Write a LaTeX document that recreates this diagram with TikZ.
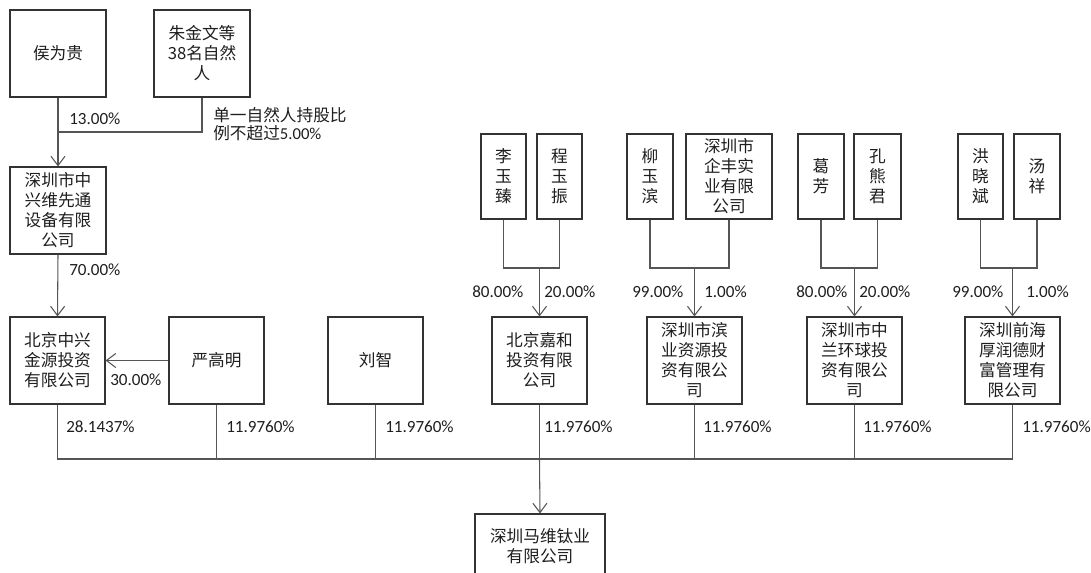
\documentclass[tikz,border=0pt]{standalone}
\usepackage{fontspec}
\setmainfont{Noto Sans CJK SC}
\newfontfamily\lat{Carlito}
\usetikzlibrary{arrows.meta}
\definecolor{linec}{HTML}{555555}
\definecolor{boxc}{HTML}{333333}
\definecolor{txtc}{HTML}{1E1E1E}
\tikzset{
  box/.style={draw=boxc, line width=0.8pt, align=center, inner sep=0pt, text=txtc,
    font=\fontsize{12.5}{15}\selectfont},
  conn/.style={draw=linec, line width=0.8pt},
  arr/.style={conn, -{Straight Barb[length=7pt,width=10.5pt]}},
  pct/.style={anchor=west, inner sep=0pt, text=txtc, font=\lat\fontsize{12.8}{15}\selectfont},
  note/.style={anchor=west, inner sep=0pt, text=txtc, align=left, font=\fontsize{12.5}{13.5}\selectfont}
}
\newcommand\bx[6]{\node[box, minimum width={(#4-#2)*0.75pt}, minimum height={(#5-#3)*0.75pt}] (#1) at ({(#2+#4)/2},{(#3+#5)/2}) {#6};}
\begin{document}
\begin{tikzpicture}[x=0.75pt,y=-0.75pt]
\useasboundingbox (0,0) rectangle (1091,573);
\clip (0,0) rectangle (1091,573);
% top-left
\bx{hou}{10}{10}{106}{97}{侯为贵}
\bx{zhu}{154}{10}{250}{97}{朱金文等\\38名自然\\人}
\bx{zxw}{10}{167}{106}{254}{深圳市中\\兴维先通\\设备有限\\公司}
% middle row
\bx{bjzx}{10}{317}{105}{404}{北京中兴\\金源投资\\有限公司}
\bx{ygm}{169}{317}{264}{404}{严高明}
\bx{lz}{328}{317}{423}{404}{刘智}
\bx{bjjh}{492}{317}{587}{404}{北京嘉和\\投资有限\\公司}
\bx{szby}{647}{317}{742}{404}{深圳市滨\\业资源投\\资有限公\\司}
\bx{szzl}{807}{317}{902}{404}{深圳市中\\兰环球投\\资有限公\\司}
\bx{szqh}{965}{317}{1060}{404}{深圳前海\\厚润德财\\富管理有\\限公司}
% upper small boxes
\bx{li}{481}{134}{526}{219}{李\\玉\\臻}
\bx{cheng}{537}{134}{582}{219}{程\\玉\\振}
\bx{liu}{627}{134}{673}{219}{柳\\玉\\滨}
\bx{qf}{686}{134}{772}{219}{深圳市\\企丰实\\业有限\\公司}
\bx{ge}{798}{134}{844}{219}{葛\\芳}
\bx{kong}{854}{134}{901}{219}{孔\\熊\\君}
\bx{hong}{958}{134}{1003}{219}{洪\\晓\\斌}
\bx{tang}{1014}{134}{1060}{219}{汤\\祥}
% target
\bx{mw}{475}{514}{605}{578}{深圳马维钛业\\有限公司}

% top-left connectors
\coordinate (j0) at (58,132);
\draw[arr] (hou.south) -- (zxw.north);
\draw[conn] (zhu.south) |- (j0);
\draw[arr] (zxw.south) -- (bjzx.north);
\draw[arr] (ygm.west) -- (bjzx.east);
\node[pct] (p13) at (69,119) {13.00\%};
\node[note] (n1) at (213,124) {单一自然人持股比\\例不超过{\lat 5.00\%}};
\node[pct] (p70) at (69,270) {70.00\%};
\node[pct] (p30) at (110,380) {30.00\%};

% groups
\coordinate (j1) at (539.5,268);
\draw[conn] (li.south) |- (j1);
\draw[conn] (cheng.south) |- (j1);
\draw[arr] (j1) -- (bjjh.north);
\node[pct] (a1) at (472,292) {80.00\%};
\node[pct] (a2) at (544,292) {20.00\%};

\coordinate (j2) at (694.5,268);
\draw[conn] (liu.south) |- (j2);
\draw[conn] (qf.south) |- (j2);
\draw[arr] (j2) -- (szby.north);
\node[pct] (b1) at (632,292) {99.00\%};
\node[pct] (b2) at (704,292) {1.00\%};

\coordinate (j3) at (854.5,268);
\draw[conn] (ge.south) |- (j3);
\draw[conn] (kong.south) |- (j3);
\draw[arr] (j3) -- (szzl.north);
\node[pct] (c1) at (796,292) {80.00\%};
\node[pct] (c2) at (859,292) {20.00\%};

\coordinate (j4) at (1012.5,268);
\draw[conn] (hong.south) |- (j4);
\draw[conn] (tang.south) |- (j4);
\draw[arr] (j4) -- (szqh.north);
\node[pct] (d1) at (952,292) {99.00\%};
\node[pct] (d2) at (1026,292) {1.00\%};

% bus
\coordinate (bus) at (539.5,459);
\foreach \n in {bjzx,ygm,lz,bjjh,szby,szzl,szqh}{
  \draw[conn] (\n.south) |- (bus);
}
\draw[arr] (bus) -- (mw.north);
\node[pct] (e0) at (66,427) {28.1437\%};
\node[pct] (e1) at (226,427) {11.9760\%};
\node[pct] (e2) at (385,427) {11.9760\%};
\node[pct] (e3) at (544,427) {11.9760\%};
\node[pct] (e4) at (703,427) {11.9760\%};
\node[pct] (e5) at (863,427) {11.9760\%};
\node[pct] (e6) at (1022,427) {11.9760\%};
\end{tikzpicture}
\end{document}
